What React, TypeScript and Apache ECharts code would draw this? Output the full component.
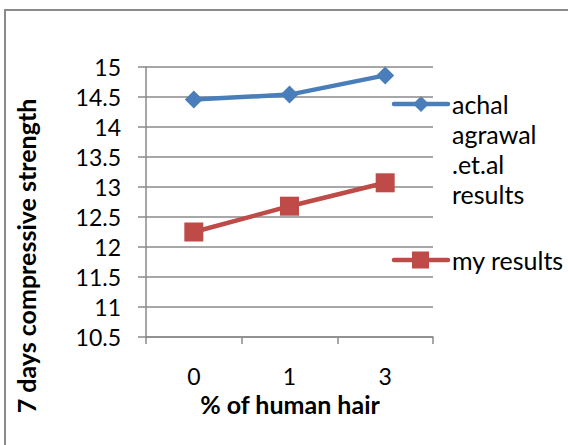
import React, { useEffect, useRef } from "react";
import * as echarts from "echarts";

const categories = ["0", "1", "3"];
const achalValues = [14.46, 14.54, 14.86];
const myValues = [12.25, 12.68, 13.07];
const yTicks = [10.5, 15, 0.5];
const seriesNames = ["achal agrawal .et.al results", "my results"];
const legendLines = [["achal", "agrawal", ".et.al", "results"], ["my results"]];

const BLUE = "#4A7EBB";
const RED = "#BE4B48";
const GRAY = "#8a8a8a";
const FONT = "Lato, 'Liberation Sans', sans-serif";

export default function App() {
  const ref = useRef<HTMLDivElement>(null);
  useEffect(() => {
    if (!ref.current) return;
    const chart = echarts.init(ref.current, undefined, { renderer: "svg" });
    const legendItem = (y: number, color: string, symbol: string, lines: string[]) => {
      const els: any[] = [
        { type: "line", shape: { x1: 394, y1: y, x2: 448, y2: y }, style: { stroke: color, lineWidth: 4.5, lineCap: "round" } },
      ];
      if (symbol === "diamond") {
        els.push({ type: "polygon", shape: { points: [[421, y - 8], [429, y], [421, y + 8], [413, y]] }, style: { fill: color } });
      } else {
        els.push({ type: "rect", shape: { x: 412, y: y - 8.5, width: 17, height: 17 }, style: { fill: color } });
      }
      lines.forEach((t, i) => {
        els.push({ type: "text", x: 452, y: y + i * 30, style: { text: t, font: `25px ${FONT}`, fill: "#000", verticalAlign: "middle", align: "left" } });
      });
      return els;
    };
    chart.setOption({
      animation: false,
      backgroundColor: "#fff",
      grid: { left: 146, right: 135, top: 67, bottom: 108 },
      xAxis: {
        type: "category",
        data: categories,
        boundaryGap: true,
        axisLine: { lineStyle: { color: GRAY, width: 1.5 } },
        axisTick: { show: true, length: 7, lineStyle: { color: GRAY, width: 1.5 } },
        axisLabel: { margin: 27, fontSize: 23, color: "#000", fontFamily: FONT },
      },
      yAxis: {
        type: "value",
        min: yTicks[0],
        max: yTicks[1],
        interval: yTicks[2],
        axisLine: { show: true, lineStyle: { color: GRAY, width: 1.5 } },
        axisTick: { show: true, length: 8, lineStyle: { color: GRAY, width: 1.5 } },
        splitLine: { lineStyle: { color: GRAY, width: 1.5 } },
        axisLabel: { margin: 25, fontSize: 23, color: "#000", fontFamily: FONT },
      },
      series: [
        {
          name: seriesNames[0],
          type: "line",
          data: achalValues,
          symbol: "diamond",
          symbolSize: 18,
          itemStyle: { color: BLUE },
          lineStyle: { color: BLUE, width: 4.5 },
        },
        {
          name: seriesNames[1],
          type: "line",
          data: myValues,
          symbol: "rect",
          symbolSize: 19,
          itemStyle: { color: RED },
          lineStyle: { color: RED, width: 4.5 },
        },
      ],
      graphic: [
        { type: "rect", shape: { x: 5, y: 10, width: 700, height: 600 }, style: { fill: "none", stroke: GRAY, lineWidth: 2 }, z: -1 },
        { type: "text", x: 26, y: 256, rotation: Math.PI / 2, style: { text: "7 days compressive strength", font: `bold 25px ${FONT}`, fill: "#000", align: "center", verticalAlign: "middle" } },
        { type: "text", x: 290, y: 404, style: { text: "% of human hair", font: `bold 25px ${FONT}`, fill: "#000", align: "center", verticalAlign: "middle" } },
        ...legendItem(104, BLUE, "diamond", legendLines[0]),
        ...legendItem(260, RED, "rect", legendLines[1]),
      ],
    });
    return () => chart.dispose();
  }, []);
  return <div ref={ref} style={{ position: "fixed", left: 0, top: 0, width: 568, height: 445 }} />;
}
